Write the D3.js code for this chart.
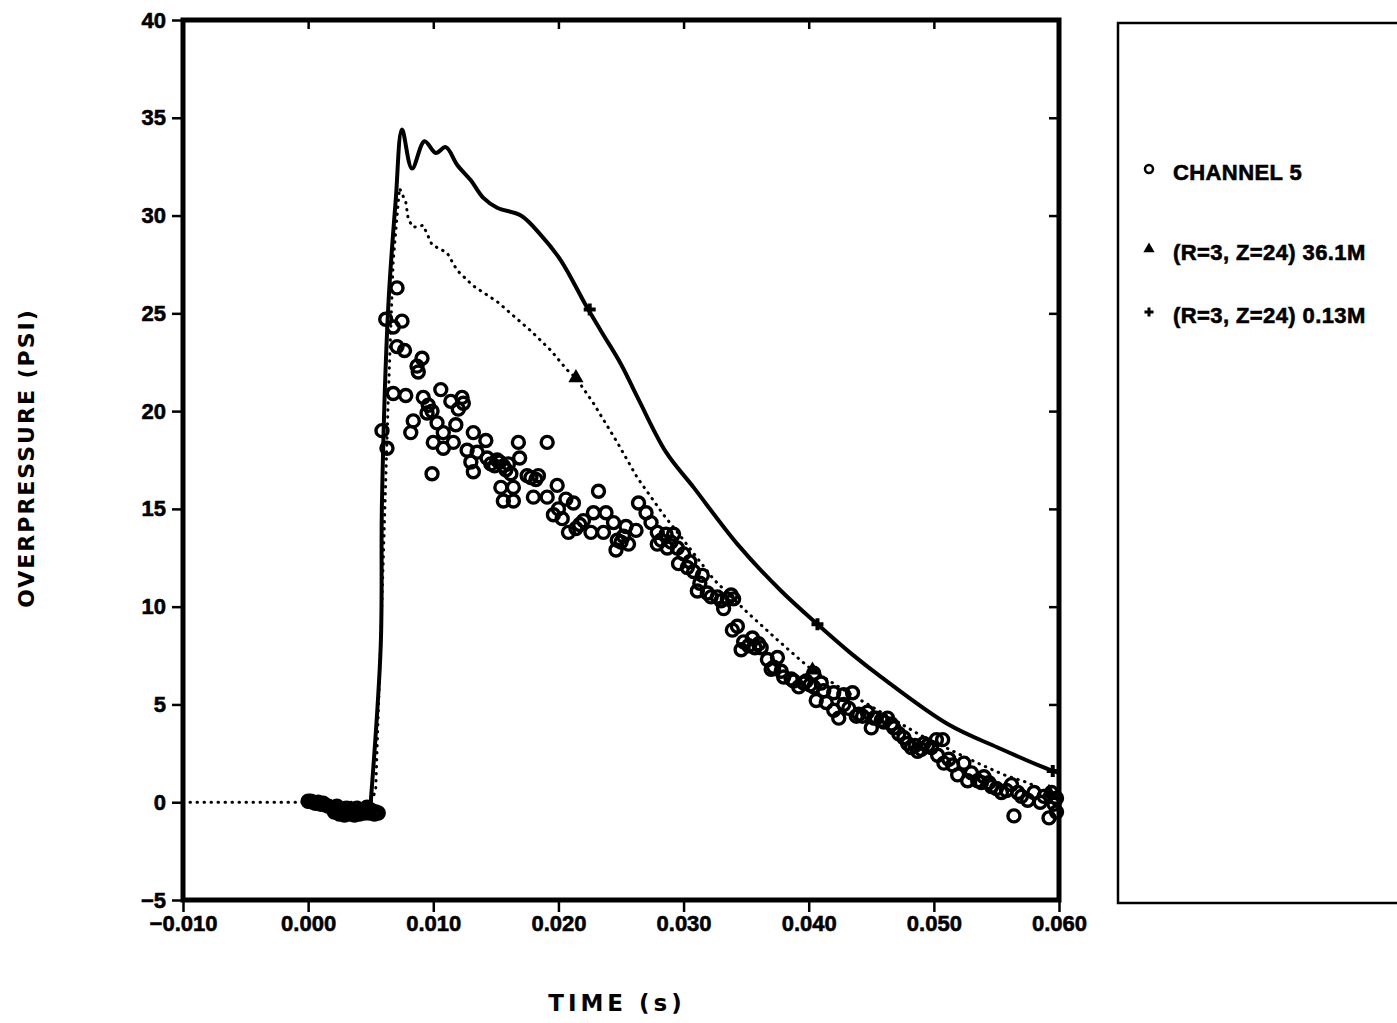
<!DOCTYPE html>
<html>
<head>
<meta charset="utf-8">
<script src="https://cdn.jsdelivr.net/npm/d3@7"></script>
<style>
  body { margin: 0; background: #fff; }
  svg text { font-family: "DejaVu Sans", sans-serif; font-weight: bold; fill: #000; }
</style>
</head>
<body>
<svg id="chart" width="1397" height="1023"></svg>
<script>
// channel 5 gauge readings [time s, overpressure psi]
const ch5 = [
  [0.0000, 0.05], [0.0002, 0.05], [0.0004, 0.0], [0.0006, -0.05], [0.0008, 0.0], [0.0010, -0.1],
  [0.0012, -0.05], [0.0014, -0.15], [0.0016, -0.2], [0.0018, -0.25], [0.0020, -0.3], [0.0022, -0.35],
  [0.0024, -0.4], [0.0026, -0.45], [0.0028, -0.5], [0.0030, -0.5], [0.0032, -0.45], [0.0034, -0.5],
  [0.0036, -0.45], [0.0038, -0.5], [0.0040, -0.45], [0.0042, -0.5], [0.0044, -0.45], [0.0046, -0.4],
  [0.0048, -0.45], [0.0050, -0.4], [0.0052, -0.5], [0.0054, -0.5], [0.0056, -0.55],
  [0.0021, -0.5], [0.0025, -0.6], [0.0029, -0.65], [0.0033, -0.6], [0.0037, -0.65], [0.0041, -0.6],
  [0.0045, -0.55], [0.0049, -0.55], [0.0053, -0.6], [0.0023, -0.2], [0.0031, -0.3], [0.0039, -0.3],
  [0.0047, -0.25],
  [0.0059, 19.0], [0.0063, 18.1], [0.0062, 24.7], [0.0068, 24.3], [0.0068, 20.9], [0.0071, 26.3],
  [0.0071, 23.3], [0.0075, 24.6], [0.0077, 23.1], [0.0078, 20.8], [0.0082, 18.9], [0.0084, 19.5],
  [0.0087, 22.3], [0.0088, 22.0], [0.0091, 22.7], [0.0092, 20.7], [0.0095, 19.9], [0.0096, 20.3],
  [0.0099, 20.0], [0.0099, 16.8], [0.0100, 18.4], [0.0103, 19.4], [0.0106, 21.1], [0.0108, 18.9],
  [0.0108, 18.1], [0.0114, 20.5], [0.0116, 18.4], [0.0118, 19.3], [0.0120, 20.1], [0.0123, 20.7],
  [0.0124, 20.4], [0.0127, 18.0], [0.0130, 17.4], [0.0132, 18.9], [0.0132, 16.9], [0.0135, 17.9],
  [0.0142, 18.5], [0.0143, 17.6], [0.0151, 17.5], [0.0154, 16.1], [0.0156, 17.2], [0.0156, 15.4],
  [0.0146, 17.3], [0.0149, 17.2], [0.0153, 17.4], [0.0158, 17.0], [0.0160, 17.3],
  [0.0162, 16.8], [0.0164, 16.1], [0.0164, 15.4], [0.0168, 18.4], [0.0169, 17.6], [0.0175, 16.7],
  [0.0178, 16.6], [0.0182, 16.5],
  [0.0180, 15.6], [0.0184, 16.7], [0.0191, 18.4], [0.0191, 15.6], [0.0196, 14.7], [0.0199, 16.2],
  [0.0200, 15.0], [0.0203, 14.5], [0.0214, 14.0], [0.0217, 14.2],
  [0.0206, 15.5], [0.0208, 13.8], [0.0212, 15.3], [0.0220, 14.4], [0.0226, 13.8], [0.0228, 14.8],
  [0.0232, 15.9], [0.0236, 13.8], [0.0238, 14.8], [0.0244, 14.3], [0.0246, 12.9], [0.0247, 13.4],
  [0.0250, 13.3], [0.0252, 13.6],
  [0.0254, 14.1], [0.0256, 13.2], [0.0262, 13.9], [0.0264, 15.3], [0.0270, 14.8], [0.0274, 14.3],
  [0.0279, 13.8], [0.0279, 13.2], [0.0286, 13.7], [0.0287, 13.0], [0.0292, 13.7], [0.0295, 13.0],
  [0.0282, 13.4], [0.0290, 13.3],
  [0.0296, 12.2], [0.0300, 12.7], [0.0303, 12.0], [0.0308, 11.8], [0.0311, 10.8], [0.0315, 11.6],
  [0.0305, 12.3], [0.0313, 11.2], [0.0322, 10.5], [0.0330, 10.3], [0.0335, 10.4], [0.0340, 10.4],
  [0.0319, 10.7], [0.0327, 10.5], [0.0332, 9.9], [0.0338, 10.6], [0.0339, 8.8], [0.0343, 9.0],
  [0.0346, 7.8], [0.0348, 8.2], [0.0355, 8.4], [0.0362, 7.9], [0.0367, 7.3], [0.0370, 6.8],
  [0.0352, 8.0], [0.0357, 7.9], [0.0360, 8.1], [0.0372, 6.9], [0.0378, 6.7],
  [0.0375, 7.4], [0.0380, 6.4], [0.0386, 6.3], [0.0388, 6.2], [0.0392, 5.9], [0.0396, 6.1],
  [0.0398, 6.2], [0.0401, 6.0],
  [0.0404, 6.6], [0.0404, 5.9], [0.0406, 5.2], [0.0410, 6.1], [0.0412, 5.7], [0.0414, 5.1],
  [0.0420, 5.6], [0.0420, 4.7], [0.0424, 4.3], [0.0428, 5.5], [0.0428, 5.0], [0.0435, 5.6],
  [0.0432, 4.8], [0.0438, 4.4], [0.0443, 4.4], [0.0452, 4.3], [0.0460, 4.1], [0.0466, 4.0],
  [0.0440, 4.5], [0.0447, 4.6], [0.0450, 3.8], [0.0454, 4.3], [0.0458, 4.2], [0.0463, 4.3],
  [0.0468, 3.8], [0.0476, 3.3], [0.0482, 2.8], [0.0487, 2.6], [0.0492, 3.0], [0.0498, 2.8],
  [0.0472, 3.5], [0.0479, 3.0], [0.0485, 2.9], [0.0490, 2.7], [0.0495, 2.9],
  [0.0502, 3.2], [0.0507, 3.2], [0.0503, 2.4], [0.0508, 2.0], [0.0515, 1.9], [0.0524, 2.0],
  [0.0512, 2.2], [0.0530, 1.5], [0.0538, 1.0], [0.0544, 1.0], [0.0550, 0.7], [0.0558, 0.6],
  [0.0519, 1.4], [0.0527, 1.1], [0.0535, 1.1], [0.0540, 1.3], [0.0546, 0.8], [0.0554, 0.5],
  [0.0562, 0.9], [0.0564, -0.7], [0.0567, 0.5], [0.0575, 0.1], [0.0580, 0.5], [0.0588, 0.3],
  [0.0570, 0.3], [0.0585, 0.0], [0.0598, 0.2], [0.0598, -0.5],
  [0.0594, 0.5], [0.0596, -0.1], [0.0592, -0.8]
];

// (R=3, Z=24) 36.1M  -> dotted line, triangle markers
const coarseTime = [-0.010, 0.000, 0.0050, 0.0054, 0.0059, 0.0064, 0.0068, 0.0073, 0.0078, 0.0080,
  0.0084, 0.0092, 0.0099, 0.0111, 0.0119, 0.0132, 0.0151, 0.0178, 0.0194, 0.0207, 0.0214, 0.0228,
  0.0247, 0.0263, 0.0284, 0.0300, 0.0324, 0.0351, 0.0375, 0.0391, 0.0403, 0.0434, 0.0490, 0.0535,
  0.0556, 0.0575, 0.0588, 0.0600];
const coarsePsi = [0.0, 0.0, 0.0, 0.6, 10.3, 20.6, 27.7, 31.4, 30.7, 29.8,
  29.4, 29.5, 28.5, 28.1, 27.2, 26.4, 25.6, 24.1, 23.1, 22.1, 21.7, 20.4,
  18.4, 16.6, 14.7, 13.4, 11.4, 9.7, 8.3, 7.4, 6.75, 5.5, 3.4, 2.0,
  1.4, 1.0, 0.6, 0.35];
const coarseMarkT = [0.0214, 0.0403, 0.0592];
const coarseMarkP = [21.7, 6.75, 0.5];

// (R=3, Z=24) 0.13M -> solid line, plus markers
const fineTime = [0.0050, 0.0058, 0.0059, 0.0064, 0.0070, 0.0075, 0.0083, 0.0093, 0.0102, 0.0110,
  0.0119, 0.0130, 0.0140, 0.0151, 0.0170, 0.0186, 0.0202, 0.0222, 0.0234, 0.0250, 0.0264, 0.0286,
  0.0308, 0.0343, 0.0378, 0.0407, 0.0434, 0.0458, 0.0511, 0.0551, 0.0595, 0.0600];
const finePsi = [0.0, 8.0, 15.4, 25.3, 30.8, 34.4, 32.4, 33.8, 33.2, 33.5,
  32.6, 31.8, 30.9, 30.4, 30.0, 29.0, 27.7, 25.4, 24.1, 22.4, 20.6, 17.9,
  16.1, 13.2, 10.8, 9.1, 7.6, 6.4, 4.0, 2.8, 1.6, 1.5];
const fineMarkT = [0.0225, 0.0407, 0.0595];
const fineMarkP = [25.2, 9.1, 1.6];

const xTicks = [-0.010, 0.000, 0.010, 0.020, 0.030, 0.040, 0.050, 0.060];
const yTicks = [-5, 0, 5, 10, 15, 20, 25, 30, 35, 40];
const legendLabels = ['CHANNEL 5', '(R=3, Z=24) 36.1M', '(R=3, Z=24) 0.13M'];

const plotLeft = 183, plotRight = 1059, plotTop = 20, plotBottom = 900;
const svg = d3.select('#chart');

const x = d3.scaleLinear().domain([-0.010, 0.060]).range([plotLeft, plotRight]);
const y = d3.scaleLinear().domain([-5, 40]).range([plotBottom, plotTop]);

// axes (ticks outside on left/bottom, inside on top/right)
const fmt = d3.format('.3f');
const gLeft = svg.append('g').attr('transform', `translate(${plotLeft},0)`)
  .call(d3.axisLeft(y).tickValues(yTicks).tickSize(11).tickSizeOuter(0).tickPadding(6));
const gBottom = svg.append('g').attr('transform', `translate(0,${plotBottom})`)
  .call(d3.axisBottom(x).tickValues(xTicks).tickFormat(fmt).tickSize(12).tickSizeOuter(0).tickPadding(3));
const gTop = svg.append('g').attr('transform', `translate(0,${plotTop})`)
  .call(d3.axisBottom(x).tickValues(xTicks).tickFormat('').tickSize(9).tickSizeOuter(0));
const gRight = svg.append('g').attr('transform', `translate(${plotRight},0)`)
  .call(d3.axisLeft(y).tickValues(yTicks).tickFormat('').tickSize(10).tickSizeOuter(0));

[gLeft, gBottom, gTop, gRight].forEach((g) => {
  g.select('.domain').remove();
  g.selectAll('.tick line').attr('stroke', '#000').attr('stroke-width', 2.5);
  g.selectAll('text')
    .attr('font-size', 22)
    .style('font-family', '"Liberation Sans", Arial, sans-serif')
    .style('font-weight', 'bold')
    .attr('stroke', '#000').attr('stroke-width', 0.6);
});

svg.append('rect')
  .attr('x', plotLeft).attr('y', plotTop)
  .attr('width', plotRight - plotLeft).attr('height', plotBottom - plotTop)
  .attr('fill', 'none').attr('stroke', '#000').attr('stroke-width', 5);

// dotted 36.1M curve
const lineCoarse = d3.line().x((d, i) => x(coarseTime[i])).y((d, i) => y(coarsePsi[i]));
svg.append('path')
  .attr('d', lineCoarse(coarseTime))
  .attr('fill', 'none').attr('stroke', '#000')
  .attr('stroke-width', 3).attr('stroke-linecap', 'round')
  .attr('stroke-dasharray', '0.5,6.5');

// solid 0.13M curve
const lineFine = d3.line().curve(d3.curveCatmullRom.alpha(0.5))
  .x((d, i) => x(fineTime[i])).y((d, i) => y(finePsi[i]));
svg.append('path')
  .attr('d', lineFine(fineTime))
  .attr('fill', 'none').attr('stroke', '#000')
  .attr('stroke-width', 4).attr('stroke-linejoin', 'round');

// markers
const tri = d3.symbol().type(d3.symbolTriangle).size(100);
svg.selectAll('.triMark').data(coarseMarkT).join('path')
  .attr('class', 'triMark')
  .attr('d', tri)
  .attr('transform', (d, i) => `translate(${x(d)},${y(coarseMarkP[i])})`)
  .attr('fill', '#000');

const plus = d3.symbol().type(d3.symbolCross).size(80);
svg.selectAll('.plusMark').data(fineMarkT).join('path')
  .attr('class', 'plusMark')
  .attr('d', plus)
  .attr('transform', (d, i) => `translate(${x(d)},${y(fineMarkP[i])})`)
  .attr('fill', '#000');

// channel 5 circles
svg.selectAll('.ch5').data(ch5).join('circle')
  .attr('class', 'ch5')
  .attr('cx', (d) => x(d[0]))
  .attr('cy', (d) => y(d[1]))
  .attr('r', 6)
  .attr('fill', 'none')
  .attr('stroke', '#000')
  .attr('stroke-width', 3.4);

// axis titles
svg.append('text')
  .attr('x', 617).attr('y', 1011)
  .attr('text-anchor', 'middle')
  .attr('font-size', 23)
  .attr('letter-spacing', 4)
  .text('TIME (s)');

svg.append('text')
  .attr('transform', 'translate(34,458) rotate(-90)')
  .attr('text-anchor', 'middle')
  .attr('font-size', 22)
  .attr('letter-spacing', 2)
  .text('OVERPRESSURE (PSI)');

// legend box
svg.append('rect')
  .attr('x', 1118).attr('y', 23)
  .attr('width', 300).attr('height', 880)
  .attr('fill', 'none').attr('stroke', '#000').attr('stroke-width', 2.5);

const legendY = [169, 249, 312];
const legend = svg.selectAll('.legendItem').data(legendLabels).join('g')
  .attr('class', 'legendItem')
  .attr('transform', (d, i) => `translate(1149,${legendY[i]})`);

legend.append('text')
  .attr('x', 24).attr('y', 11)
  .attr('font-size', 22)
  .attr('letter-spacing', 0.4)
  .style('font-family', '"Liberation Sans", Arial, sans-serif')
  .attr('stroke', '#000').attr('stroke-width', 0.6)
  .text((d) => d);

legend.filter((d, i) => i === 0).append('circle')
  .attr('r', 4).attr('fill', 'none').attr('stroke', '#000').attr('stroke-width', 2.5);
legend.filter((d, i) => i === 1).append('path')
  .attr('d', d3.symbol().type(d3.symbolTriangle).size(55)).attr('fill', '#000');
legend.filter((d, i) => i === 2).append('path')
  .attr('d', d3.symbol().type(d3.symbolCross).size(45)).attr('fill', '#000');
</script>
</body>
</html>
